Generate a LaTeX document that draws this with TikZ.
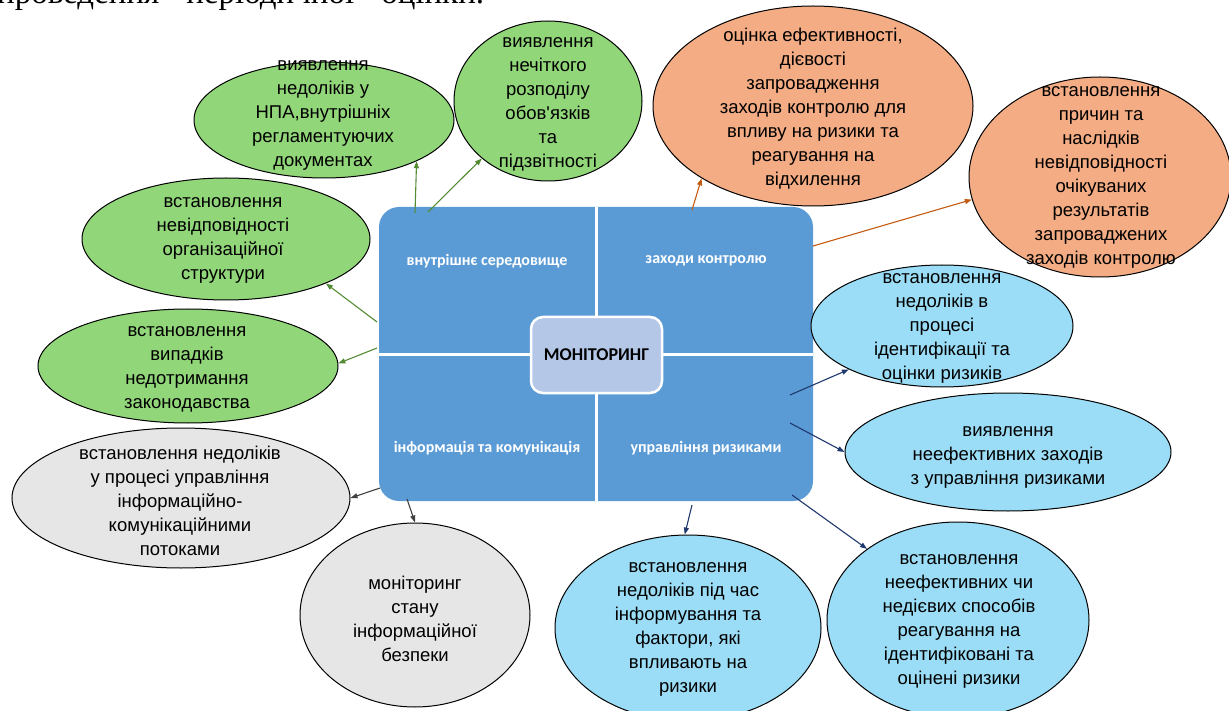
\documentclass[tikz,border=0pt]{standalone}
\usepackage{fontspec}
\newfontfamily\arialf{Liberation Sans}
\newfontfamily\calf{Carlito}
\newfontfamily\tnrf{Liberation Serif}
\usetikzlibrary{shapes.geometric,arrows.meta}
\definecolor{boxblue}{RGB}{91,155,213}
\definecolor{cenblue}{RGB}{180,199,231}
\definecolor{gfill}{RGB}{146,214,122}
\definecolor{ofill}{RGB}{243,172,132}
\definecolor{bfill}{RGB}{155,221,246}
\definecolor{grfill}{RGB}{231,230,230}
\definecolor{garrow}{RGB}{84,140,52}
\definecolor{oarrow}{RGB}{197,90,17}
\definecolor{barrow}{RGB}{31,56,110}
\definecolor{grarrow}{RGB}{64,64,64}
\tikzset{
  ell/.style={ellipse, draw=black, line width=1pt, inner sep=0pt},
  etxt/.style={align=center, inner sep=0pt, font=\arialf\fontsize{18.5}{24}\selectfont},
  qlab/.style={text=white, inner sep=0pt, font=\calf\bfseries\fontsize{16}{19}\selectfont},
  conn/.style={line width=1.1pt, -{Triangle[length=7pt,width=5pt]}},
}
\begin{document}
\begin{tikzpicture}[x=1pt,y=-1pt]
\useasboundingbox (0,0) rectangle (1229,711);
\clip (0,0) rectangle (1229,711);
% cut-off line of text at the top (only its lower edge is visible)
\node[anchor=base west, inner sep=0pt] (toptext) at (-3,4) {\tnrf\fontsize{33}{38}\selectfont\makebox[487pt][s]{проведення періодичної оцінки.}};
% central matrix
\node[draw=none, fill=boxblue, rounded corners=20pt, minimum width=434pt, minimum height=294pt, inner sep=0pt] (box) at (596,354) {};
\draw[white, line width=3pt] (box.north) -- (box.south);
\draw[white, line width=3pt] (box.west) -- (box.east);
\node[qlab] (q1) at (487,261) {внутрішнє середовище};
\node[qlab] (q2) at (706,261) {заходи контролю};
\node[qlab] (q3) at (487,448) {інформація та комунікація};
\node[qlab] (q4) at (706,448) {управління ризиками};
\node[fill=cenblue, draw=white, line width=2.5pt, rounded corners=12pt, minimum width=131pt, minimum height=76pt, inner sep=0pt, font=\calf\bfseries\fontsize{18}{20}\selectfont] (mon) at (596.5,355) {МОНІТОРИНГ};
% ellipses
\node[ell, fill=gfill, minimum width=260pt, minimum height=116pt] (G1) at (324,120) {};
\node[ell, fill=gfill, minimum width=188pt, minimum height=160pt] (G2) at (548,101) {};
\node[ell, fill=gfill, minimum width=288pt, minimum height=122pt] (G3) at (226,239) {};
\node[ell, fill=gfill, minimum width=300pt, minimum height=114pt] (G4) at (188,366) {};
\node[ell, fill=grfill, minimum width=338pt, minimum height=140pt] (Gr1) at (181,498) {};
\node[ell, fill=grfill, minimum width=230pt, minimum height=184pt] (Gr2) at (415,615) {};
\node[ell, fill=ofill, minimum width=320pt, minimum height=200pt] (O1) at (813,106) {};
\node[ell, fill=ofill, minimum width=262pt, minimum height=200pt] (O2) at (1100,177) {};
\node[ell, fill=bfill, minimum width=262pt, minimum height=122pt] (B1) at (942,326) {};
\node[ell, fill=bfill, minimum width=326pt, minimum height=118pt] (B2) at (1008,452) {};
\node[ell, fill=bfill, minimum width=266pt, minimum height=186pt] (B3) at (688,628) {};
\node[ell, fill=bfill, minimum width=262pt, minimum height=196pt] (B4) at (958,620) {};
% texts
\node[etxt] (G1t) at (323,115) {виявлення\\недоліків  у\\НПА,внутрішніх\\регламентуючих\\документах};
\node[etxt] (G2t) at (548,104.5) {виявлення\\нечіткого\\розподілу\\обов'язків\\та\\підзвітності};
\node[etxt] (G3t) at (223,240) {встановлення\\невідповідності\\організаційної\\структури};
\node[etxt] (G4t) at (187,369) {встановлення\\випадків\\недотримання\\законодавства};
\node[etxt] (Gr1t) at (180,501) {встановлення  недоліків\\у процесі управління\\інформаційно-\\комунікаційними\\потоками};
\node[etxt] (Gr2t) at (415,618.5) {моніторинг\\стану\\інформаційної\\безпеки};
\node[etxt] (O1t) at (813,109) {оцінка ефективності,\\дієвості\\запровадження\\заходів  контролю для\\впливу  на ризики та\\реагування  на\\відхилення};
\node[etxt] (O2t) at (1101,177.5) {встановлення\\причин та\\наслідків\\невідповідності\\очікуваних\\результатів\\запроваджених\\заходів  контролю};
\node[etxt] (B1t) at (942,328) {встановлення\\недоліків  в\\процесі\\ідентифікації  та\\оцінки  ризиків};
\node[etxt] (B2t) at (1008,457.5) {виявлення\\неефективних  заходів\\з управління  ризиками};
\node[etxt] (B3t) at (688,629) {встановлення\\недоліків  під час\\інформування  та\\фактори, які\\впливають  на\\ризики};
\node[etxt] (B4t) at (959,621) {встановлення\\неефективних  чи\\недієвих  способів\\реагування  на\\ідентифіковані  та\\оцінені  ризики};
% connector start points
\coordinate (sA1) at (415,213);
\coordinate (sA2) at (428,212);
\coordinate (sA3) at (377,322);
\coordinate (sA4) at (377,348);
\coordinate (sGr1) at (380,488);
\coordinate (sGr2) at (407,499);
\coordinate (sO1) at (692,210);
\coordinate (sO2) at (813,246);
\coordinate (sB1) at (790,395);
\coordinate (sB2) at (790,423);
\coordinate (sB3) at (692,505);
\coordinate (sB4) at (792,495);
% connectors
\draw[conn, garrow] (sA1) -- (G1.-24);
\draw[conn, garrow] (sA2) -- (G2.221);
\draw[conn, garrow] (sA3) -- (G3.-24);
\draw[conn, garrow] (sA4) -- (G4.1);
\draw[conn, grarrow] (sGr1) -- (Gr1.0);
\draw[conn, grarrow] (sGr2) -- (Gr2.90);
\draw[conn, oarrow] (sO1) -- (O1.213);
\draw[conn, oarrow] (sO2) -- (O2.190);
\draw[conn, barrow] (sB1) -- (B1.205);
\draw[conn, barrow] (sB2) -- (B2.180);
\draw[conn, barrow] (sB3) -- (B3.92);
\draw[conn, barrow] (sB4) -- (B4.142);
\end{tikzpicture}
\end{document}
